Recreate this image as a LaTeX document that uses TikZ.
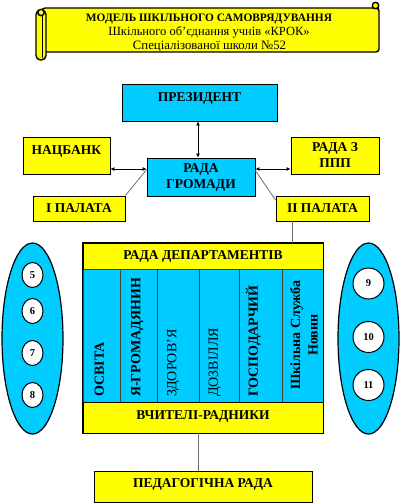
\documentclass[tikz,border=0pt]{standalone}
\usepackage{fontspec}
\setmainfont{Liberation Serif}
\usetikzlibrary{arrows.meta,calc,shapes.geometric}
\definecolor{cyanfill}{RGB}{0,204,255}
\definecolor{yel}{RGB}{255,255,0}
\begin{document}
\begin{tikzpicture}[x=1pt,y=-1pt,
 box/.style={draw=black, line width=0.8pt, inner sep=0pt, align=center,
   font=\fontsize{13.5}{16}\selectfont\bfseries},
 cbox/.style={box, fill=cyanfill},
 ybox/.style={box, fill=yel},
 lift/.style={text height=10pt, text depth=#1},
 conn/.style={draw=gray!85!black, line width=0.8pt},
 arr/.style={draw=black, line width=1pt, {Latex[length=4pt,width=4pt]}-{Latex[length=4pt,width=4pt]}},
 colbox/.style={draw=black!75, line width=0.6pt, fill=cyanfill, inner sep=0pt, minimum height=133pt},
 vtext/.style={rotate=90, anchor=west, inner sep=0pt, text height=9.5pt, text depth=0pt,
   font=\fontsize{14}{16}\selectfont\bfseries},
 vtextr/.style={vtext, font=\fontsize{14}{16}\selectfont},
 oval/.style={ellipse, draw=black, line width=1.2pt, fill=cyanfill, inner sep=0pt,
   minimum width=61pt, minimum height=191pt},
 lnum/.style={ellipse, draw=black, line width=1pt, fill=white, inner sep=0pt,
   minimum width=21pt, minimum height=25pt, font=\fontsize{10.5}{12}\selectfont\bfseries},
 rnum/.style={circle, draw=black, line width=1pt, fill=white, inner sep=0pt,
   minimum size=31pt, font=\fontsize{10.5}{12}\selectfont\bfseries},
 scrollline/.style={draw=black, line width=1.4pt, fill=yel}
]
\path[use as bounding box] (0,0) rectangle (400,504);

% ---- scroll ----
\draw[scrollline, rounded corners=3pt] (42,8) -- (376,8) -- (379,8) -- (379,52) -- (42,52) -- cycle;
\draw[scrollline] (375.5,5.5) circle[radius=3.2pt];
\draw[scrollline, rounded corners=4.5pt] (36,10) rectangle (46,60);
\draw[scrollline] (41,12.5) circle[radius=3.2pt];
\draw[black, line width=0.8pt] (42,14) -- (42,58);
\node[anchor=base, inner sep=0pt, font=\fontsize{11.4}{13}\selectfont\bfseries] (t1) at (209,21) {МОДЕЛЬ ШКІЛЬНОГО САМОВРЯДУВАННЯ};
\node[anchor=base, inner sep=0pt, font=\fontsize{12.5}{14}\selectfont] (t2) at (209,35) {Шкільного об’єднання учнів «КРОК»};
\node[anchor=base, inner sep=0pt, font=\fontsize{12.8}{14}\selectfont] (t3) at (209.5,49) {Спеціалізованої школи №52};

% ---- upper boxes ----
\node[cbox, lift=12pt, minimum width=155pt, minimum height=37pt] (pres) at (199.5,102.5) {ПРЕЗИДЕНТ};
\node[ybox, lift=12pt, minimum width=87pt, minimum height=37pt] (nb) at (66.5,155.5) {НАЦБАНК};
\node[cbox, minimum width=108pt, minimum height=38pt] (rada) at (201,177) {РАДА\\ГРОМАДИ};
\node[ybox, minimum width=88pt, minimum height=37pt] (ppp) at (335,155.5) {РАДА З\\ППП};
\node[ybox, minimum width=92pt, minimum height=25pt] (p1) at (79,208.5) {І ПАЛАТА};
\node[ybox, minimum width=93pt, minimum height=25pt] (p2) at (322.5,208.5) {ІІ ПАЛАТА};

\draw[arr] ([xshift=-1.5pt]pres.south) -- ([xshift=-1.5pt]pres.south |- rada.north);
\draw[arr] ([yshift=8pt]rada.west) -- ([yshift=8pt]rada.west -| nb.east);
\draw[arr] ([yshift=8pt]rada.east) -- ([yshift=8pt]rada.east -| ppp.west);
\draw[conn] ([yshift=-12pt]rada.north west) -- (p1.north east);
\draw[conn] ([yshift=-13pt]rada.north east) -- ([yshift=-4.5pt]p2.north west);

% ---- departments ----
\node[ybox, minimum width=240pt, minimum height=26pt] (dtop) at (203,256) {РАДА ДЕПАРТАМЕНТІВ};
\node[colbox, minimum width=37pt] (c1) at (101.5,335.5) {};
\node[colbox, minimum width=37pt] (c2) at (138.5,335.5) {};
\node[colbox, minimum width=42pt] (c3) at (178,335.5) {};
\node[colbox, minimum width=40pt] (c4) at (219,335.5) {};
\node[colbox, minimum width=43pt] (c5) at (260.5,335.5) {};
\node[colbox, minimum width=41pt] (c6) at (302.5,335.5) {};
\node[ybox, lift=6pt, minimum width=240pt, minimum height=31pt] (dbot) at (203,417.5) {ВЧИТЕЛІ-РАДНИКИ};
\draw[black, line width=0.8pt] (dtop.north west) rectangle (dbot.south east);

\node[vtext] (v1) at (99,397) {ОСВІТА};
\node[vtext] (v2) at (135.5,397) {Я-ГРОМАДЯНИН};
\node[vtextr] (v3) at (171.5,397) {ЗДОРОВ’Я};
\node[vtextr] (v4) at (213,397) {ДОЗВІЛЛЯ};
\node[vtext] (v5) at (253,397) {ГОСПОДАРЧИЙ};
\node[rotate=90, align=center, inner sep=0pt, font=\fontsize{14}{17.5}\selectfont\bfseries] (v6) at (304,335) {Шкільна Служба\\Новин};

\draw[conn] ([xshift=-30.5pt]p2.south) -- ([xshift=-30.5pt]p2.south |- dtop.north);

\node[ybox, lift=8pt, minimum width=218pt, minimum height=31pt] (ped) at (203,486.5) {ПЕДАГОГІЧНА РАДА};
\draw[conn] ([xshift=-5pt]dbot.south) -- ([xshift=-5pt]dbot.south |- ped.north);

% ---- ovals ----
\node[oval] (lov) at (32.5,338.5) {};
\node[lnum] (n5) at (32.5,275) {5};
\node[lnum] (n6) at (32.5,311) {6};
\node[lnum] (n7) at (32.5,353) {7};
\node[lnum] (n8) at (32.5,395) {8};
\node[oval] (rov) at (368.5,338.5) {};
\node[rnum] (n9) at (368.5,283.5) {9};
\node[rnum] (n10) at (368.5,337) {10};
\node[rnum] (n11) at (368.5,385) {11};
\end{tikzpicture}
\end{document}
